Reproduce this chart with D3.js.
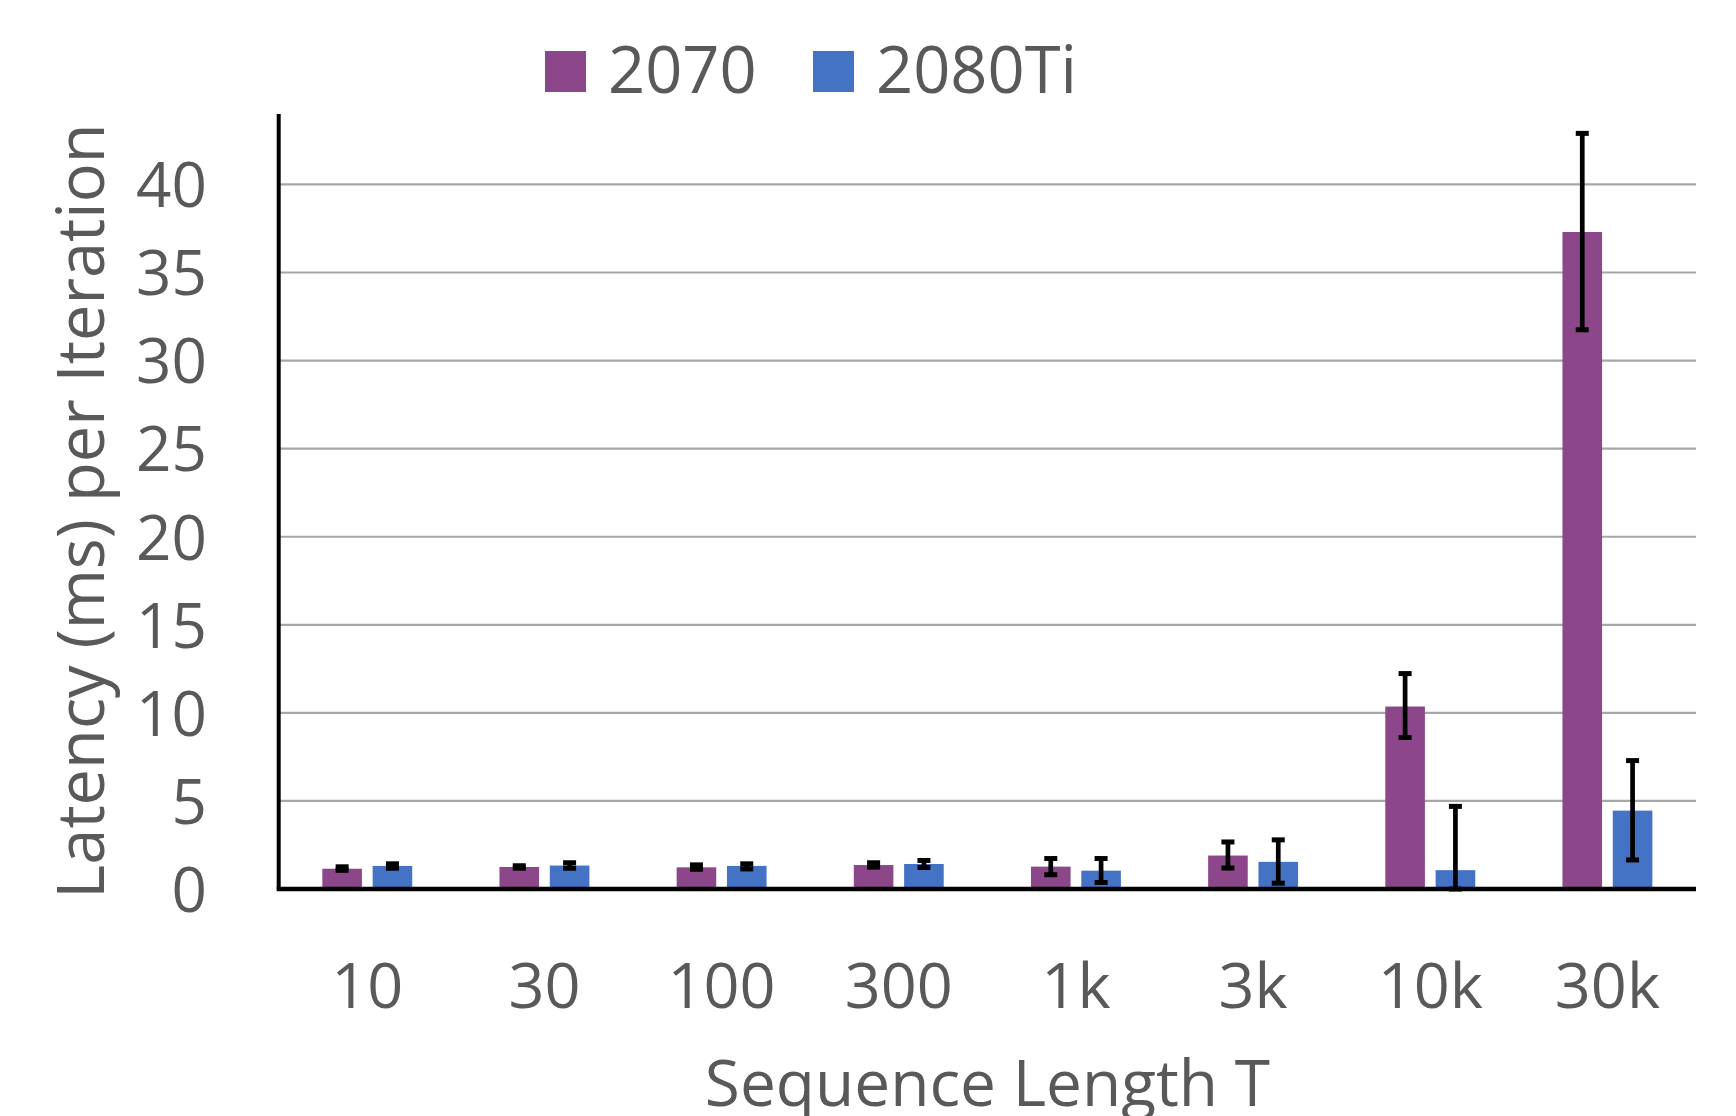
<!DOCTYPE html>
<meta charset="utf-8">
<html>
<head>
    <title>Latency per Iteration</title>
</head>
<style>
    * { margin:0; padding:0; }
    body { background:#fff; }
    svg text { font-family:'Open Sans', sans-serif; fill:#595959; }
</style>
<script src="https://cdn.jsdelivr.net/npm/d3@7"></script>
<div id="chartContainer"></div>
<script type="text/javascript">

    // data
    var categories = ["10", "30", "100", "300", "1k", "3k", "10k", "30k"];
    var series = ["2070", "2080Ti"];
    var colors = ["#8B4789", "#4472C4"];

    var mean2070   = [1.15, 1.25, 1.23, 1.36, 1.27, 1.90, 10.36, 37.3];
    var low2070    = [1.06, 1.18, 1.12, 1.24, 0.81, 1.19, 8.60, 31.75];
    var high2070   = [1.26, 1.32, 1.37, 1.49, 1.73, 2.67, 12.23, 42.9];

    var mean2080Ti = [1.31, 1.33, 1.31, 1.42, 1.04, 1.54, 1.07, 4.45];
    var low2080Ti  = [1.18, 1.18, 1.14, 1.22, 0.37, 0.33, 0.0, 1.65];
    var high2080Ti = [1.43, 1.49, 1.43, 1.62, 1.73, 2.79, 4.69, 7.29];

    var yTicks = [0, 5, 10, 15, 20, 25, 30, 35, 40];

    var width = 1736, height = 1116;
    var plotLeft = 278.7, plotRight = 1696, plotTop = 114, plotBottom = 889;

    var svg = d3.select("#chartContainer").append("svg")
        .attr("width", width)
        .attr("height", height);

    var x = d3.scaleBand().domain(categories).range([plotLeft, plotRight]);
    var xs = d3.scaleBand().domain(series).range([0, x.bandwidth()])
        .paddingInner(0.213).paddingOuter(0.867);
    var y = d3.scaleLinear().domain([0, 44]).range([plotBottom, plotTop]);

    var rows = [];
    categories.forEach(function (c, i) {
        rows.push({cat: c, s: "2070", v: mean2070[i], lo: low2070[i], hi: high2070[i], color: colors[0]});
        rows.push({cat: c, s: "2080Ti", v: mean2080Ti[i], lo: low2080Ti[i], hi: high2080Ti[i], color: colors[1]});
    });

    // gridlines
    svg.append("g")
        .selectAll("line")
        .data(yTicks.filter(function (d) { return d > 0; }))
        .enter().append("line")
        .attr("x1", plotLeft).attr("x2", plotRight)
        .attr("y1", function (d) { return y(d); })
        .attr("y2", function (d) { return y(d); })
        .attr("stroke", "#a6a6a6")
        .attr("stroke-width", 2.2);

    // y tick labels
    var yAxis = svg.append("g")
        .attr("transform", "translate(207,0)")
        .call(d3.axisLeft(y).tickValues(yTicks).tickSize(0).tickPadding(0));
    yAxis.select(".domain").remove();
    yAxis.selectAll("text")
        .attr("fill", "#595959")
        .style("font-family", "'Open Sans', sans-serif")
        .style("font-size", "62px")
        .attr("dy", "0.36em");

    // bars
    svg.append("g")
        .selectAll("rect")
        .data(rows)
        .enter().append("rect")
        .attr("x", function (d) { return x(d.cat) + xs(d.s); })
        .attr("y", function (d) { return y(d.v); })
        .attr("width", xs.bandwidth())
        .attr("height", function (d) { return y(0) - y(d.v); })
        .attr("fill", function (d) { return d.color; });

    // error bars
    var err = svg.append("g").selectAll("g")
        .data(rows)
        .enter().append("g")
        .attr("transform", function (d) {
            return "translate(" + (x(d.cat) + xs(d.s) + xs.bandwidth() / 2) + ",0)";
        });
    err.append("line")
        .attr("x1", 0).attr("x2", 0)
        .attr("y1", function (d) { return y(d.lo); })
        .attr("y2", function (d) { return y(d.hi); })
        .attr("stroke", "#000")
        .attr("stroke-width", 4.7);
    err.selectAll("line.cap")
        .data(function (d) { return [d.lo, d.hi]; })
        .enter().append("line")
        .attr("class", "cap")
        .attr("x1", -6.5).attr("x2", 6.5)
        .attr("y1", function (d) { return y(d); })
        .attr("y2", function (d) { return y(d); })
        .attr("stroke", "#000")
        .attr("stroke-width", 5);

    // axis lines
    svg.append("line")
        .attr("x1", plotLeft).attr("x2", plotLeft)
        .attr("y1", plotTop).attr("y2", plotBottom)
        .attr("stroke", "#000").attr("stroke-width", 4);
    svg.append("line")
        .attr("x1", plotLeft - 2).attr("x2", plotRight)
        .attr("y1", plotBottom).attr("y2", plotBottom)
        .attr("stroke", "#000").attr("stroke-width", 4.7);

    // x tick labels
    var xAxis = svg.append("g")
        .attr("transform", "translate(0,1008)")
        .call(d3.axisBottom(x).tickSize(0).tickPadding(0));
    xAxis.select(".domain").remove();
    xAxis.selectAll("text")
        .attr("fill", "#595959")
        .attr("dy", 0)
        .style("font-family", "'Open Sans', sans-serif")
        .style("font-size", "63px");

    // axis titles
    svg.append("text")
        .attr("x", (plotLeft + plotRight) / 2)
        .attr("y", 1106)
        .attr("text-anchor", "middle")
        .style("font-size", "64px")
        .text("Sequence Length T");

    svg.append("text")
        .attr("transform", "translate(104,511) rotate(-90)")
        .attr("text-anchor", "middle")
        .style("font-size", "65px")
        .text("Latency (ms) per Iteration");

    // legend
    var legendX = [545, 813];
    var legend = svg.append("g").selectAll("g")
        .data(series)
        .enter().append("g")
        .attr("transform", function (d, i) { return "translate(" + legendX[i] + ",0)"; });
    legend.append("rect")
        .attr("x", 0).attr("y", 51)
        .attr("width", 41).attr("height", 41)
        .attr("fill", function (d, i) { return colors[i]; });
    legend.append("text")
        .attr("x", 63).attr("y", 93)
        .style("font-size", "65px")
        .text(function (d) { return d; });

</script>
</html>
